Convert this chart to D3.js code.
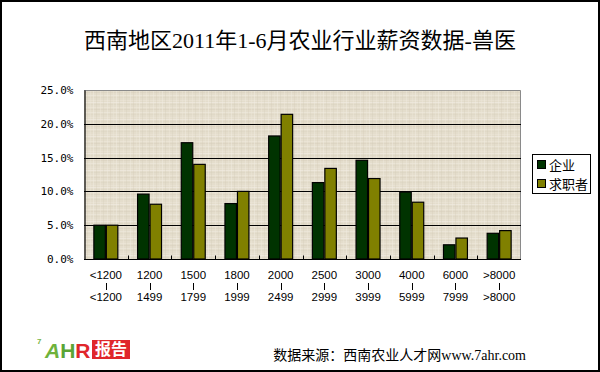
<!DOCTYPE html>
<html>
<head>
<meta charset="utf-8">
<script src="https://cdn.jsdelivr.net/npm/d3@7"></script>
<style>
  body { margin: 0; background: #fff; }
  svg { display: block; }
</style>
</head>
<body>
<script>
// 数据
const categories = ["<1200", "1200", "1500", "1800", "2000", "2500", "3000", "4000", "6000", ">8000"];
const categoriesTo = ["<1200", "1499", "1799", "1999", "2499", "2999", "3999", "5999", "7999", ">8000"];
const series = ["企业", "求职者"];
const qiye = [5.0, 9.6, 17.2, 8.2, 18.2, 11.3, 14.6, 9.9, 2.1, 3.8];
const qiuzhi = [5.0, 8.1, 14.0, 10.0, 21.4, 13.4, 11.9, 8.4, 3.1, 4.2];
const yTicks = [0, 5, 10, 15, 20, 25];

const W = 600, H = 372;
const plot = { left: 84, right: 521, top: 90, bottom: 259 };
const colors = ["#003300", "#808000"];

const svg = d3.select("body").append("svg").attr("width", W).attr("height", H);

// fondo con textura tipo arpillera
const defs = svg.append("defs");
const pat = defs.append("pattern")
  .attr("id", "burlap")
  .attr("patternUnits", "userSpaceOnUse")
  .attr("width", 23).attr("height", 17);
pat.append("rect").attr("width", 23).attr("height", 17).attr("fill", "#e4ddcc");
[[0, "#f2ede2", 0.6], [2, "#d6cdba", 0.35], [5, "#efe9dc", 0.5], [7, "#d2c9b5", 0.3],
 [10, "#f0ebdf", 0.5], [12, "#d9d0bd", 0.35], [15, "#ede7d9", 0.45]].forEach(([y, c, o]) =>
  pat.append("rect").attr("x", 0).attr("y", y).attr("width", 23).attr("height", 1).attr("fill", c).attr("opacity", o));
[[1, "#f3eee3", 0.45], [4, "#d3cab6", 0.3], [8, "#efe9dc", 0.4], [11, "#d6cdb9", 0.3],
 [15, "#f1ece0", 0.4], [18, "#d4cbb7", 0.3], [21, "#ece6d8", 0.35]].forEach(([x, c, o]) =>
  pat.append("rect").attr("x", x).attr("y", 0).attr("width", 1).attr("height", 17).attr("fill", c).attr("opacity", o));

const x = d3.scaleBand().domain(categories).range([plot.left, plot.right]).padding(0);
const xs = d3.scaleBand().domain(series).range([0, x.bandwidth()]).paddingInner(0).paddingOuter(0.75);
const y = d3.scaleLinear().domain([0, 25]).range([plot.bottom, plot.top]);

svg.append("rect")
  .attr("x", plot.left).attr("y", plot.top)
  .attr("width", plot.right - plot.left).attr("height", plot.bottom - plot.top)
  .attr("fill", "url(#burlap)");

// borde gris arriba y derecha
svg.append("path")
  .attr("d", `M${plot.left},${plot.top + 0.5}H${plot.right - 0.5}V${plot.bottom}`)
  .attr("fill", "none").attr("stroke", "#8a8a8a").attr("stroke-width", 1);

// líneas de cuadrícula
svg.append("g")
  .selectAll("line")
  .data(yTicks.filter((d) => d > 0 && d < 25))
  .enter()
  .append("line")
  .attr("x1", plot.left).attr("x2", plot.right)
  .attr("y1", (d) => Math.round(y(d)) + 0.5).attr("y2", (d) => Math.round(y(d)) + 0.5)
  .attr("stroke", "#000").attr("stroke-width", 1);

// barras
const data = categories.map((c, i) => ({ cat: c, values: [qiye[i], qiuzhi[i]] }));
const groups = svg.append("g")
  .selectAll("g")
  .data(data)
  .enter()
  .append("g")
  .attr("transform", (d) => `translate(${x(d.cat)},0)`);

groups.selectAll("rect")
  .data((d) => d.values.map((v, j) => ({ s: series[j], v, j })))
  .enter()
  .append("rect")
  .attr("x", (d) => xs(d.s) + 0.5)
  .attr("width", xs.bandwidth() - 1)
  .attr("y", (d) => y(d.v))
  .attr("height", (d) => plot.bottom - y(d.v))
  .attr("fill", (d) => colors[d.j])
  .attr("stroke", "#000")
  .attr("stroke-width", 1.2);

// ejes
const yAxis = d3.axisLeft(y).tickValues(yTicks).tickSize(0).tickPadding(11)
  .tickFormat((d) => d.toFixed(1) + "%");
const gy = svg.append("g").attr("transform", `translate(${plot.left + 0.5},0)`).call(yAxis);
gy.select(".domain").attr("stroke", "#000").attr("stroke-width", 1.2);
gy.selectAll("text")
  .attr("font-family", "DejaVu Sans Mono, monospace")
  .attr("font-size", 11)
  .attr("fill", "#000");

const gx = svg.append("g").attr("transform", `translate(0,${plot.bottom + 0.5})`);
gx.append("line")
  .attr("x1", plot.left).attr("x2", plot.right)
  .attr("stroke", "#000").attr("stroke-width", 1.2);
gx.selectAll("line.tick")
  .data(categories.slice(1))
  .enter()
  .append("line")
  .attr("class", "tick")
  .attr("x1", (d) => Math.round(x(d)) + 0.5).attr("x2", (d) => Math.round(x(d)) + 0.5)
  .attr("y1", 0).attr("y2", -4)
  .attr("stroke", "#000");

const lab = svg.append("g")
  .attr("font-family", "Liberation Sans, Arial, sans-serif")
  .attr("font-size", 11.5)
  .attr("fill", "#000")
  .attr("text-anchor", "middle");
categories.forEach((c, i) => {
  const cx = x(c) + x.bandwidth() / 2;
  lab.append("text").attr("x", cx).attr("y", 279).text(c);
  lab.append("line").attr("x1", Math.round(cx) + 0.5).attr("x2", Math.round(cx) + 0.5)
    .attr("y1", 283).attr("y2", 290).attr("stroke", "#000").attr("stroke-width", 1);
  lab.append("text").attr("x", cx).attr("y", 301).text(categoriesTo[i]);
});

// leyenda
const lg = svg.append("g").attr("transform", "translate(532,154)");
lg.append("rect").attr("x", 0.5).attr("y", 0.5).attr("width", 58).attr("height", 39)
  .attr("fill", "#fff").attr("stroke", "#000");
series.forEach((s, i) => {
  lg.append("rect").attr("x", 5.5).attr("y", 6.5 + i * 19).attr("width", 8).attr("height", 8)
    .attr("fill", colors[i]).attr("stroke", "#000");
  lg.append("text").attr("x", 17).attr("y", 15.5 + i * 19)
    .attr("font-family", "Noto Sans CJK SC, sans-serif").attr("font-size", 13)
    .attr("fill", "#000").text(s);
});

// título
svg.append("text")
  .attr("x", 300).attr("y", 48)
  .attr("text-anchor", "middle")
  .attr("font-family", "Liberation Serif, Noto Sans CJK SC, serif")
  .attr("font-size", 22)
  .attr("fill", "#000")
  .text("西南地区2011年1-6月农业行业薪资数据-兽医");

// fuente
svg.append("text")
  .attr("x", 526).attr("y", 360)
  .attr("text-anchor", "end")
  .attr("font-family", "Liberation Serif, Noto Sans CJK SC, serif")
  .attr("font-size", 14)
  .attr("fill", "#000")
  .text("数据来源：西南农业人才网www.7ahr.com");

// logo
const logo = svg.append("g");
logo.append("text").attr("x", 37).attr("y", 344)
  .attr("font-family", "Liberation Sans, sans-serif").attr("font-size", 8).attr("font-weight", "bold")
  .attr("fill", "#7ab648").text("7");
const logoText = logo.append("text").attr("x", 45).attr("y", 358)
  .attr("font-family", "Liberation Sans, sans-serif")
  .attr("font-size", 21).attr("font-weight", "bold");
logoText.append("tspan").attr("font-style", "italic").attr("fill", "#6fb23c").text("A");
logoText.append("tspan").attr("fill", "#5aa536").text("H");
logoText.append("tspan").attr("fill", "#e0262b").text("R");
logo.append("rect").attr("x", 92).attr("y", 340).attr("width", 38).attr("height", 19).attr("fill", "#e0262b");
logo.append("text").attr("x", 111).attr("y", 355).attr("text-anchor", "middle")
  .attr("font-family", "Noto Sans CJK SC, sans-serif").attr("font-size", 16).attr("font-weight", "bold")
  .attr("fill", "#fff").text("报告");

// marco exterior
svg.append("rect").attr("x", 1).attr("y", 1).attr("width", W - 2).attr("height", H - 2)
  .attr("fill", "none").attr("stroke", "#000").attr("stroke-width", 2);
</script>
</body>
</html>
